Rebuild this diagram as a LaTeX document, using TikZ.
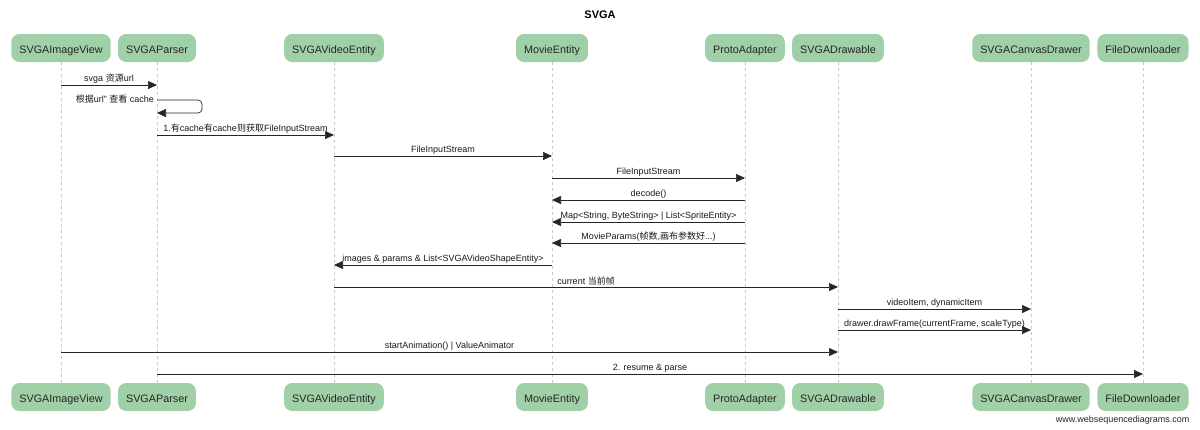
\documentclass[tikz,border=0pt]{standalone}
\usepackage{fontspec}
\setmainfont{Liberation Sans}
\newfontfamily\cjk{Noto Sans CJK SC}
\usetikzlibrary{arrows.meta}
\definecolor{boxgreen}{RGB}{160,208,168}
\definecolor{lifegray}{RGB}{200,200,200}
\tikzset{
  actor/.style={fill=boxgreen, draw=none, rounded corners=8pt, minimum height=28pt, text height=11.5pt, text depth=0pt, inner xsep=8pt, font=\fontsize{10.8}{13}\selectfont, text=black!85},
  life/.style={draw=lifegray, dashed, dash pattern=on 3pt off 3pt, line width=0.6pt},
  msg/.style={draw=black!85, line width=0.7pt, -{Triangle[length=9pt,width=8pt]}},
  lbl/.style={font=\fontsize{9}{10}\selectfont, text=black!90, inner sep=1pt, above=0.5pt}
}
\begin{document}
\begin{tikzpicture}[x=1pt,y=-1pt]
\useasboundingbox[fill=white] (0,0) rectangle (1200,429);
\node[font=\bfseries\fontsize{11}{13}\selectfont] (title) at (600,15) {SVGA};
% lifelines
\foreach \n/\x in {a/61,b/157,c/334,d/552,e/745,f/838,g/1031,h/1143}{
  \coordinate (t\n) at (\x,62);
  \coordinate (b\n) at (\x,383);
  \draw[life] (t\n) -- (b\n);
}
% actors
\foreach \n/\x/\t in {a/61/SVGAImageView,b/157/SVGAParser,c/334/SVGAVideoEntity,d/552/MovieEntity,e/745/ProtoAdapter,f/838/SVGADrawable,g/1031/SVGACanvasDrawer,h/1143/FileDownloader}{
  \node[actor] (top\n) at (\x,48) {\t};
  \node[actor] (bot\n) at (\x,397) {\t};
}
% message anchors
\foreach \n/\x in {a/61,b/157,c/334,d/552,e/745,f/838,g/1031,h/1143}{
  \foreach \y in {85,100,113,135,156,178,200,222,243,265,287,309,330,352,374}{
    \coordinate (\n\y) at (\x,\y);
  }
}
\draw[msg] (a85) -- node[lbl] {svga {\cjk 资源}url} (b85);
% self message
\coordinate (s1) at (202,100);
\coordinate (s2) at (202,113);
\draw[msg, rounded corners=4pt] (b100) -- (s1) -- (s2) -- (b113);
\node[lbl, anchor=south east] (selflbl) at (155,105) {{\cjk 根据}url" {\cjk 查看} cache};
\draw[msg] (b135) -- node[lbl] {1.{\cjk 有}cache{\cjk 有}cache{\cjk 则获取}FileInputStream} (c135);
\draw[msg] (c156) -- node[lbl] {FileInputStream} (d156);
\draw[msg] (d178) -- node[lbl] {FileInputStream} (e178);
\draw[msg] (e200) -- node[lbl] {decode()} (d200);
\draw[msg] (e222) -- node[lbl] {Map<String, ByteString> | List<SpriteEntity>} (d222);
\draw[msg] (e243) -- node[lbl] {MovieParams({\cjk 帧数},{\cjk 画布参数好}...)} (d243);
\draw[msg] (d265) -- node[lbl] {images \& params \& List<SVGAVideoShapeEntity>} (c265);
\draw[msg] (c287) -- node[lbl] {current {\cjk 当前帧}} (f287);
\draw[msg] (f309) -- node[lbl] {videoItem, dynamicItem} (g309);
\draw[msg] (f330) -- node[lbl] {drawer.drawFrame(currentFrame, scaleType)} (g330);
\draw[msg] (a352) -- node[lbl] {startAnimation() | ValueAnimator} (f352);
\draw[msg] (b374) -- node[lbl] {2. resume \& parse} (h374);
\node[anchor=east, font=\fontsize{9}{11}\selectfont, text=black!85] (wm) at (1193,420) {www.websequencediagrams.com};
\end{tikzpicture}
\end{document}
